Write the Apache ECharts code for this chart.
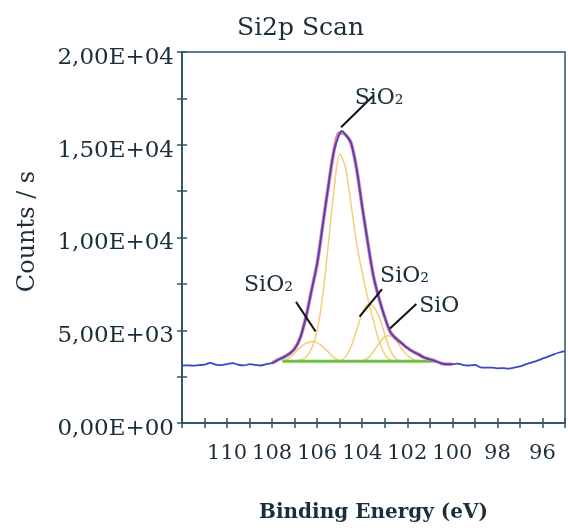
<!DOCTYPE html>
<html>
<head>
<meta charset="utf-8">
<script src="https://cdn.jsdelivr.net/npm/echarts@6/dist/echarts.min.js"></script>
<style>html,body{margin:0;padding:0;background:#fff;}#c{width:568px;height:528px;}</style>
</head>
<body>
<div id="c"></div>
<script>
// ---- data ----
const energies = [112.0,111.75,111.5,111.25,111.0,110.75,110.5,110.25,110.0,109.75,109.5,109.25,109.0,108.75,108.5,108.25,
  108.0,107.75,107.5,107.25,107.0,106.75,106.5,106.25,106.0,105.75,105.5,105.25,105.0,104.9,104.75,104.5,104.25,104.0,103.75,103.5,103.25,
  103.0,102.75,102.5,102.25,102.0,101.75,101.5,101.25,101.0,100.75,100.5,100.25,100.0,99.75,99.5,99.25,99.0,98.75,98.5,98.25,
  98.0,97.75,97.5,97.25,97.0,96.75,96.5,96.25,96.0,95.75,95.5,95.25,95.0];
const counts = [3100,3110,3090,3120,3150,3240,3150,3120,3180,3230,3140,3110,3170,3130,3100,3180,
  3230,3400,3540,3720,4000,4600,5700,7150,8600,10700,12800,14700,15600,15750,15550,15100,13700,11650,9700,7900,6700,
  5700,4900,4550,4300,4050,3850,3700,3530,3430,3340,3220,3170,3170,3200,3120,3100,3130,3000,2980,2990,
  2950,2960,2930,2980,3050,3160,3250,3350,3470,3580,3700,3800,3880];

const fitEnergies = [108.0,107.75,107.5,107.25,107.0,106.75,106.5,106.25,106.0,105.75,105.5,105.25,105.0,104.75,104.5,104.25,
  104.0,103.75,103.5,103.25,103.0,102.75,102.5,102.25,102.0,101.75,101.5,101.25,101.0,100.75,100.5,100.25,100.0];
const fitEnvelope = [3230,3400,3540,3720,4000,4600,5700,7150,8600,10700,12800,14700,15650,15550,15100,13700,
  11650,9700,7900,6700,5700,4900,4550,4300,4050,3850,3700,3530,3430,3340,3220,3170,3170];
const compMainSiO2 = [null,null,null,3335,3345,3400,3560,4000,5000,6900,9700,12600,14500,13800,11800,9700,
  8100,6700,5500,4400,3700,3400,3335,null,null,null,null,null,null,null,null,null,null];
const compLeftSiO2 = [null,null,3345,3500,3780,4080,4300,4400,4330,4120,3820,3520,3360,3335,null,null,
  null,null,null,null,null,null,null,null,null,null,null,null,null,null,null,null,null];
const compRightSiO2 = [null,null,null,null,null,null,null,null,null,null,null,null,3345,3550,4100,5000,
  5900,6400,6300,5700,4800,3900,3450,3340,null,null,null,null,null,null,null,null,null];
const compSiO = [null,null,null,null,null,null,null,null,null,null,null,null,null,null,null,null,
  3345,3500,3850,4300,4650,4700,4450,4000,3650,3430,3345,3335,null,null,null,null,null];

const bgEnergies = [107.55, 100.8];
const bgValues = [3335, 3335];

// annotations (data space)
const annLabels = ['SiO\u2082', 'SiO\u2082', 'SiO\u2082', 'SiO'];
const annTextPos = [[103.25,17530],[108.16,7430],[102.12,7910],[100.58,6310]];
const annPointerFrom = [[103.51,17640],[106.94,6530],[103.12,7220],[101.6,6420]];
const annPointerTo = [[104.94,15940],[106.07,4930],[104.12,5730],[102.77,5090]];

const yTicks = [0,2500,5000,7500,10000,12500,15000,17500,20000];
const xRange = [95, 112];

// ---- chart ----
const FONT = 'DejaVu Serif';
const AX = '#2d5566';
const TXT = '#1a2f3a';
const zip = (a, b) => a.map((v, i) => [v, b[i]]);

function yFmt(v) {
  if (v % 5000 !== 0) return '';
  if (v === 0) return '0,00E+00';
  const e = Math.floor(Math.log10(v));
  const m = v / Math.pow(10, e);
  return m.toFixed(2).replace('.', ',') + 'E+' + String(e).padStart(2, '0');
}
function xFmt(v) { return (Math.round(v) % 2 === 0 && v < xRange[1]) ? String(v) : ''; }

const baseX = {
  type: 'value', min: xRange[0], max: xRange[1], interval: 1, inverse: true, position: 'bottom',
  axisLine: {show: true, lineStyle: {color: AX, width: 1.5}},
  splitLine: {show: false}
};
const baseY = {
  type: 'value', min: yTicks[0], max: yTicks[yTicks.length-1], interval: 2500, position: 'left',
  axisLine: {show: true, lineStyle: {color: AX, width: 1.5}},
  splitLine: {show: false}
};

const series = [];
const compStyle = {color: '#f2c462', width: 1.5, opacity: 0.85};
[compMainSiO2, compLeftSiO2, compRightSiO2, compSiO].forEach(c => {
  series.push({type: 'line', data: zip(fitEnergies, c), showSymbol: false, smooth: 0.3,
    lineStyle: compStyle, connectNulls: false, z: 2, silent: true});
});
series.push({type: 'line', data: zip(bgEnergies, bgValues), showSymbol: false,
  lineStyle: {color: '#72c043', width: 3}, z: 3, silent: true});
series.push({type: 'line', data: zip(fitEnergies, fitEnvelope), showSymbol: false, smooth: 0.3,
  lineStyle: {color: '#f07890', width: 3.5}, z: 4, silent: true});
series.push({type: 'line', data: zip(energies, counts), showSymbol: false, smooth: 0.3,
  lineStyle: {color: '#3a48c8', width: 1.8}, z: 5, silent: true});
annPointerFrom.forEach((p, i) => {
  series.push({type: 'line', data: [p, annPointerTo[i]], showSymbol: false,
    lineStyle: {color: '#111', width: 2}, z: 6, silent: true});
});
series.push({type: 'scatter', symbolSize: 0, z: 7, silent: true,
  itemStyle: {opacity: 1},
  data: annTextPos.map((p, i) => ({value: p, name: annLabels[i]})),
  label: {show: true, position: 'inside', formatter: p => p.name,
    fontFamily: FONT, fontSize: 22, color: TXT, opacity: 1}});

const chart = echarts.init(document.getElementById('c'), null, {renderer: 'canvas'});
chart.setOption({
  animation: false,
  backgroundColor: '#fff',
  title: {text: 'Si2p Scan', left: 237, top: 16, padding: 0,
    textStyle: {fontFamily: FONT, fontSize: 25, fontWeight: 'normal', color: TXT}},
  grid: {left: 182, top: 52, right: -5, bottom: 100, show: true, borderColor: AX, borderWidth: 1.5, containLabel: false},
  xAxis: [
    Object.assign({}, baseX, {
      axisTick: {show: true, inside: false, length: 5, lineStyle: {color: AX, width: 1.5}},
      axisLabel: {formatter: xFmt, margin: 20, fontFamily: FONT, fontSize: 21, color: TXT, showMinLabel: true, showMaxLabel: true},
      name: 'Binding Energy (eV)', nameLocation: 'middle', nameGap: 80,
      nameTextStyle: {fontFamily: FONT, fontSize: 20, fontWeight: 'bold', color: TXT}
    }),
    Object.assign({}, baseX, {
      axisTick: {show: true, inside: true, length: 5, lineStyle: {color: AX, width: 1.5}},
      axisLabel: {show: false}
    })
  ],
  yAxis: [
    Object.assign({}, baseY, {
      axisTick: {show: true, inside: false, length: 5, lineStyle: {color: AX, width: 1.5}},
      axisLabel: {formatter: yFmt, margin: 8, fontFamily: FONT, fontSize: 23, color: TXT, verticalAlign: 'top', lineHeight: 12},
      name: 'Counts / s', nameLocation: 'middle', nameGap: 142, nameRotate: 90,
      nameTextStyle: {fontFamily: FONT, fontSize: 24, color: TXT, padding: [0, 0, 0, 12]}
    }),
    Object.assign({}, baseY, {
      axisTick: {show: true, inside: true, length: 5, lineStyle: {color: AX, width: 1.5}},
      axisLabel: {show: false}
    })
  ],
  series: series
});
</script>
</body>
</html>
